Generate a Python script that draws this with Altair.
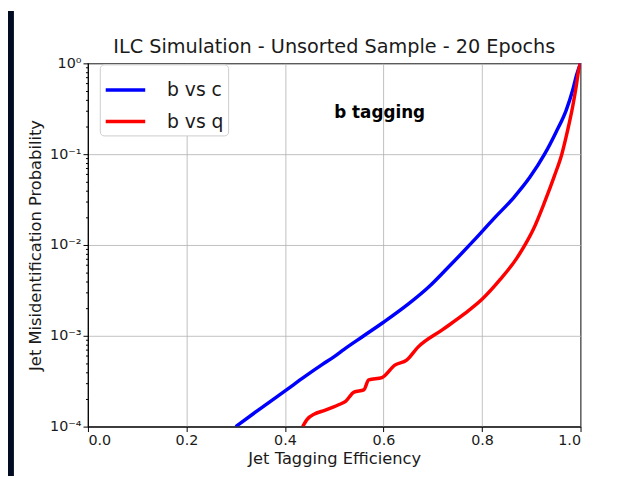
import altair as alt
import pandas as pd

# ---- data ----
eff_bc = [0.300, 0.350, 0.403, 0.440, 0.476, 0.500, 0.520, 0.560, 0.600, 0.650, 0.690,
          0.730, 0.784, 0.824, 0.864, 0.897, 0.927, 0.951, 0.971, 0.984, 0.992, 1.000]
mis_bc = [1.0e-4, 1.58e-4, 2.54e-4, 3.55e-4, 4.84e-4, 5.9e-4, 7.1e-4, 1.0e-3, 1.41e-3,
          2.23e-3, 3.38e-3, 5.58e-3, 1.13e-2, 1.95e-2, 3.31e-2, 5.56e-2, 0.100, 0.178,
          0.306, 0.505, 0.745, 1.0]

eff_bq = [0.436, 0.445, 0.460, 0.476, 0.510, 0.523, 0.540, 0.560, 0.570, 0.597, 0.623,
          0.647, 0.670, 0.720, 0.764, 0.800, 0.837, 0.870, 0.889, 0.904, 0.927, 0.947,
          0.962, 0.974, 0.984, 0.991, 0.996, 1.000]
mis_bq = [1.0e-4, 1.2e-4, 1.38e-4, 1.48e-4, 1.75e-4, 1.9e-4, 2.4e-4, 2.54e-4, 3.27e-4,
          3.47e-4, 4.75e-4, 5.4e-4, 7.5e-4, 1.17e-3, 1.74e-3, 2.52e-3, 4.17e-3, 7.08e-3,
          1.04e-2, 1.48e-2, 2.96e-2, 5.77e-2, 0.100, 0.185, 0.333, 0.548, 0.832, 1.0]

series_names = ["b vs c", "b vs q"]
series_colors = ["#0000ff", "#ff0000"]

x_ticks = [0.0, 0.2, 0.4, 0.6, 0.8, 1.0]
y_major = [1e-4, 1e-3, 1e-2, 1e-1, 1.0]
y_minor = [m * 10.0 ** e for e in range(-4, 0) for m in range(2, 10)]

title_text = "ILC Simulation - Unsorted Sample - 20 Epochs"
x_title = "Jet Tagging Efficiency"
y_title = "Jet Misidentification Probability"
annot_text = ["b tagging"]
annot_x = [0.5]
annot_y = [0.28]

# ---- build tables ----
df = pd.concat([
    pd.DataFrame({"eff": eff_bc, "mis": mis_bc, "series": series_names[0], "order": range(len(eff_bc))}),
    pd.DataFrame({"eff": eff_bq, "mis": mis_bq, "series": series_names[1], "order": range(len(eff_bq))}),
])
annot = pd.DataFrame({"x": annot_x, "y": annot_y, "t": annot_text})

W, H = 499, 368
FONT = "DejaVu Sans"
TXT = "#1a1a1a"

major_test = "abs(log(datum.value)/LN10 - round(log(datum.value)/LN10)) < 1e-6"
exp_expr = "round(log(datum.value)/LN10)"
y_label_expr = (
    f"!({major_test}) ? '' : "
    f"({exp_expr} == 0 ? '10⁰' : {exp_expr} == -1 ? '10⁻¹' : {exp_expr} == -2 ? '10⁻²' : "
    f"{exp_expr} == -3 ? '10⁻³' : '10⁻⁴')"
)

x_scale = alt.Scale(domain=[0, 1], nice=False, zero=False)
y_scale = alt.Scale(type="log", domain=[1e-4, 1], nice=False)

x_axis = alt.Axis(values=x_ticks, format=".1f", title=x_title, grid=True,
                  tickSize=5, labelPadding=2, titlePadding=4)
y_axis = alt.Axis(values=y_major + y_minor, title=y_title, grid=True,
                  labelExpr=y_label_expr,
                  tickSize={"condition": {"test": major_test, "value": 5}, "value": 2.5},
                  gridOpacity={"condition": {"test": major_test, "value": 1}, "value": 0},
                  labelPadding=2, titlePadding=6, labelFlush=False, labelOverlap=False)

lines = alt.Chart(df).mark_line(strokeWidth=3.5, clip=True, interpolate="monotone").encode(
    x=alt.X("eff:Q", scale=x_scale, axis=x_axis),
    y=alt.Y("mis:Q", scale=y_scale, axis=y_axis),
    color=alt.Color("series:N", scale=alt.Scale(domain=series_names, range=series_colors),
                    legend=alt.Legend(title=None, orient="none", legendX=12, legendY=1,
                                      symbolType="stroke", symbolSize=1600,
                                      symbolStrokeWidth=3.5, labelFontSize=19,
                                      labelFont=FONT, labelColor=TXT,
                                      padding=4, labelOffset=20, rowPadding=-6,
                                      fillColor="white", strokeColor="#cccccc",
                                      cornerRadius=4)),
    order="order:Q",
)

text = alt.Chart(annot).mark_text(align="left", baseline="middle", font=FONT,
                                   fontSize=17, fontWeight="bold", color="black").encode(
    x=alt.X("x:Q", scale=x_scale),
    y=alt.Y("y:Q", scale=y_scale),
    text="t:N",
)

strip = alt.Chart(annot).mark_rect(color="#010c22").encode(
    x=alt.value(-81), x2=alt.value(-75), y=alt.value(-53), y2=alt.value(H + 50),
)

chart = alt.layer(strip, lines, text).properties(
    width=W, height=H,
    title=alt.TitleParams(title_text, font=FONT, fontSize=19.5, fontWeight="normal",
                          color=TXT, offset=-47),
    autosize=alt.AutoSizeParams(type="none"),
    padding={"left": 81, "top": 53, "right": 41, "bottom": 50},
    background="white",
).configure_view(stroke="black", strokeWidth=1.2).configure_axis(
    labelFont=FONT, titleFont=FONT, labelFontSize=14.5, titleFontSize=16.5,
    labelColor=TXT, titleColor=TXT, titleFontWeight="normal",
    domainColor="black", tickColor="black", gridColor="#b0b0b0", gridWidth=0.8,
)

chart.save("out.html", embed_options={"renderer": "svg", "actions": False})
